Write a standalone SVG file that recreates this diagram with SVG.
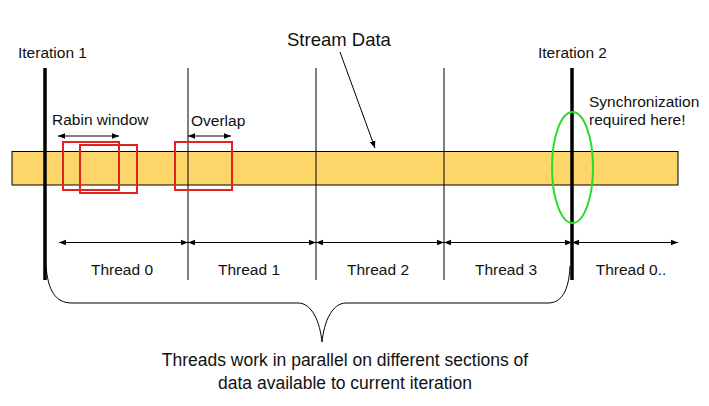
<svg xmlns="http://www.w3.org/2000/svg" width="709" height="406" viewBox="0 0 709 406">
<style>
text{font-family:"Liberation Sans",Arial,sans-serif;fill:#111}
.lbl{font-size:15.5px}
.thin{stroke:#000;stroke-width:1;fill:none}
.thick{stroke:#000;stroke-width:3.5;fill:none}
.win{fill:none;stroke:#e32222;stroke-width:2}
</style>
<defs>
<marker id="ah" viewBox="0 0 10 10" refX="10" refY="5" markerWidth="7" markerHeight="7" orient="auto-start-reverse" markerUnits="userSpaceOnUse"><path d="M0,1 L10,5 L0,9 z" fill="#000"/></marker>
</defs>
<rect width="709" height="406" fill="#fff"/>
<g id="stream-bar"><rect x="12" y="151.5" width="666" height="33.5" fill="#fcd668" stroke="#000" stroke-width="1"/></g>
<g id="dividers">
<line class="thin" x1="188" y1="68" x2="188" y2="280"/>
<line class="thin" x1="316" y1="68" x2="316" y2="280"/>
<line class="thin" x1="444" y1="68" x2="444" y2="280"/>
</g>
<g id="iteration1"><line class="thick" x1="45" y1="68" x2="45" y2="280"/><text class="lbl" x="18" y="58">Iteration 1</text></g>
<g id="iteration2"><line class="thick" x1="572" y1="68" x2="572" y2="280"/><text class="lbl" x="538" y="58">Iteration 2</text></g>
<g id="rabin-windows">
<rect class="win" x="63" y="142" width="56" height="48"/>
<rect class="win" x="80" y="145" width="57" height="48"/>
<rect class="win" x="175" y="142" width="57" height="48"/>
</g>
<g id="sync"><ellipse cx="572.5" cy="167.5" rx="20.5" ry="55.5" fill="none" stroke="#2bd92b" stroke-width="2"/>
<text class="lbl" x="589" y="107">Synchronization</text><text class="lbl" x="589" y="125">required here!</text></g>
<g id="stream-label"><text x="287" y="46" style="font-size:18.5px">Stream Data</text></g>
<g id="rabin-label"><text class="lbl" x="52" y="125">Rabin window</text></g>
<g id="overlap-label"><text class="lbl" x="191" y="126">Overlap</text></g>
<g id="connectors">
<line class="thin" x1="340" y1="52" x2="375" y2="148" marker-end="url(#ah)"/>
<line class="thin" x1="58" y1="136" x2="119" y2="136" marker-start="url(#ah)" marker-end="url(#ah)"/>
<line class="thin" x1="188" y1="136" x2="231" y2="136" marker-start="url(#ah)" marker-end="url(#ah)"/>
<line class="thin" x1="59" y1="242.5" x2="188" y2="242.5" marker-start="url(#ah)" marker-end="url(#ah)"/>
<line class="thin" x1="188" y1="242.5" x2="316" y2="242.5" marker-start="url(#ah)" marker-end="url(#ah)"/>
<line class="thin" x1="316" y1="242.5" x2="444" y2="242.5" marker-start="url(#ah)" marker-end="url(#ah)"/>
<line class="thin" x1="444" y1="242.5" x2="572" y2="242.5" marker-start="url(#ah)" marker-end="url(#ah)"/>
<line class="thin" x1="572" y1="242.5" x2="678" y2="242.5" marker-start="url(#ah)" marker-end="url(#ah)"/>
<path class="thin" d="M46,266 C48,290 55,303 72,303 L298,303 C312,303 320,322 322,342 C324,322 332,303 346,303 L548,303 C562,303 569,290 570,266"/>
</g>
<g id="threads">
<text class="lbl" x="122" y="275" text-anchor="middle">Thread 0</text>
<text class="lbl" x="249" y="275" text-anchor="middle">Thread 1</text>
<text class="lbl" x="378" y="275" text-anchor="middle">Thread 2</text>
<text class="lbl" x="506" y="275" text-anchor="middle">Thread 3</text>
<text class="lbl" x="631" y="275" text-anchor="middle">Thread 0..</text>
</g>
<g id="caption"><text x="345" y="366" text-anchor="middle" style="font-size:17.5px">Threads work in parallel on different sections of</text>
<text x="345" y="389" text-anchor="middle" style="font-size:17.5px">data available to current iteration</text></g>
</svg>
